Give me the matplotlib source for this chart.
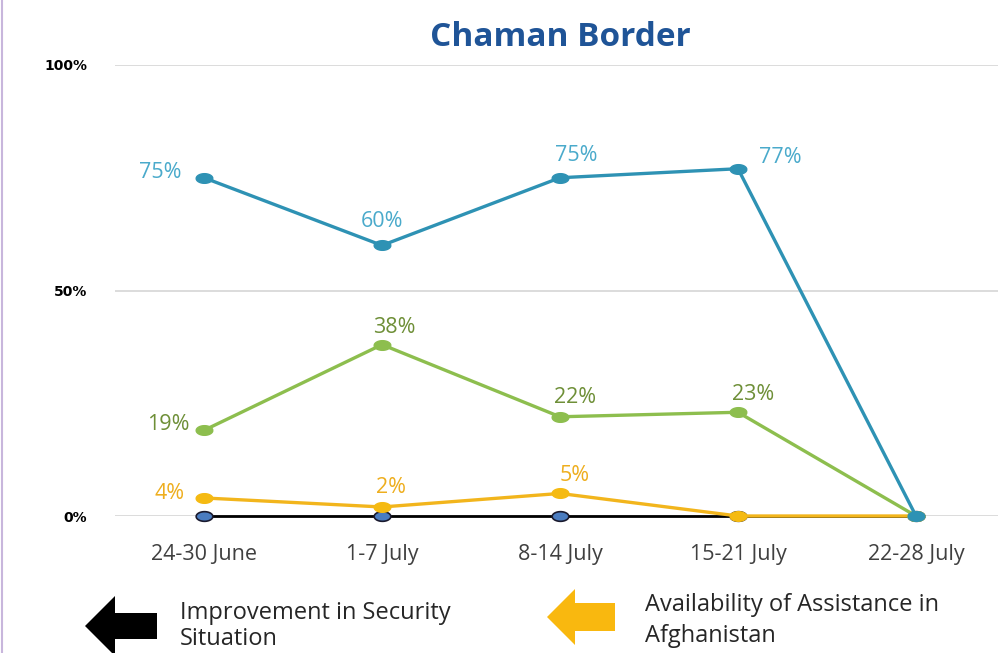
import numpy as np
import matplotlib
matplotlib.use("Agg")
import matplotlib.pyplot as plt
from matplotlib.patches import Polygon
from matplotlib.lines import Line2D

categories = ["24-30 June", "1-7 July", "8-14 July", "15-21 July", "22-28 July"]
blue_vals = [75, 60, 75, 77, 0]
green_vals = [19, 38, 22, 23, 0]
yellow_vals = [4, 2, 5, 0, 0]
black_vals = [0, 0, 0, 0, 0]
blue_labels = ["75%", "60%", "75%", "77%", None]
green_labels = ["19%", "38%", "22%", "23%", None]
yellow_labels = ["4%", "2%", "5%", None, None]
yticks = [0, 50, 100]
ytick_labels = ["0%", "50%", "100%"]

W, H = 998, 653
fig = plt.figure(figsize=(W / 100, H / 100), dpi=100)
ax = fig.add_axes([115 / W, (H - 516) / H, 890 / W, (516 - 65) / H])

t = np.linspace(0, 2 * np.pi, 40)
ellipse = np.column_stack([np.cos(t), 0.58 * np.sin(t)])

x = np.arange(len(categories))

ax.plot(x, black_vals, color="black", lw=2, marker=ellipse, ms=12,
        mfc="#4A7CC0", mec="#1a1a2e", mew=1.2, clip_on=False, zorder=3)
ax.plot(x, yellow_vals, color="#F2B51C", lw=2.4, marker=ellipse, ms=12,
        mfc="#F5BA12", mec="#F5BA12", clip_on=False, zorder=4)
ax.plot(x, green_vals, color="#8DBE4E", lw=2.4, marker=ellipse, ms=12,
        mfc="#8DBE4E", mec="#8DBE4E", clip_on=False, zorder=5)
ax.plot(x, blue_vals, color="#2E92B4", lw=2.4, marker=ellipse, ms=12,
        mfc="#2E92B4", mec="#2E92B4", clip_on=False, zorder=6)

lab_font = dict(family="Open Sans", fontsize=15.5)
offsets = {
    "blue": [(-22, 5, "right"), (0, 24, "center"), (16, 22, "center"), (42, 11, "center")],
    "green": [(-14, 6, "right"), (12, 17, "center"), (15, 19, "center"), (15, 18, "center")],
    "yellow": [(-19, 4, "right"), (9, 19, "center"), (15, 18, "center")],
}
for key, vals, labels, col in [("blue", blue_vals, blue_labels, "#4AAACB"),
                               ("green", green_vals, green_labels, "#6E8F37"),
                               ("yellow", yellow_vals, yellow_labels, "#EEAE1E")]:
    for i, (v, lab) in enumerate(zip(vals, labels)):
        if lab is None:
            continue
        dx, dy, ha = offsets[key][i]
        ax.annotate(lab, (i, v), xytext=(dx, dy), textcoords="offset pixels",
                    ha=ha, va="center", color=col, **lab_font)

ax.set_xlim(-0.5, 4.5)
ax.set_ylim(0, 100)
ax.set_yticks(yticks)
ax.set_yticklabels(ytick_labels, fontsize=10, fontweight="bold", family="DejaVu Sans")
ax.set_xticks(x)
ax.set_xticklabels(categories, fontsize=15.5, color="#404040", family="Open Sans")
ax.tick_params(axis="both", length=0)
ax.tick_params(axis="x", pad=20)
ax.tick_params(axis="y", pad=20)
ax.grid(axis="y", color="#D9D9D9", lw=1.3)
ax.set_axisbelow(True)
for s in ax.spines.values():
    s.set_visible(False)

fig.text(560 / W, 1 - 38 / H, "Chaman Border", ha="center", va="center",
         fontsize=24, fontweight="bold", color="#1F5497", family="Open Sans")

def arrow(tip_x, cy, head_len, head_h, body_end, body_h, color):
    pts = [(tip_x, cy), (tip_x + head_len, cy - head_h / 2), (tip_x + head_len, cy - body_h / 2),
           (body_end, cy - body_h / 2), (body_end, cy + body_h / 2),
           (tip_x + head_len, cy + body_h / 2), (tip_x + head_len, cy + head_h / 2)]
    pts = [(px / W, 1 - py / H) for px, py in pts]
    fig.patches.append(Polygon(pts, closed=True, transform=fig.transFigure,
                               facecolor=color, edgecolor="none"))

arrow(85, 626, 30, 60, 157, 26, "black")
arrow(547, 617, 28, 56, 615, 28, "#F9B80F")

fig.text(180 / W, 1 - 613 / H, "Improvement in Security", ha="left", va="center",
         fontsize=17, color="#262626", family="Open Sans")
fig.text(180 / W, 1 - 639 / H, "Situation", ha="left", va="center",
         fontsize=17, color="#262626", family="Open Sans")
fig.text(645 / W, 1 - 605 / H, "Availability of Assistance in", ha="left", va="center",
         fontsize=17, color="#262626", family="Open Sans")
fig.text(645 / W, 1 - 636 / H, "Afghanistan", ha="left", va="center",
         fontsize=17, color="#262626", family="Open Sans")

fig.add_artist(Line2D([1.5 / W, 1.5 / W], [0, 1], transform=fig.transFigure,
                      color="#C8B6DC", lw=1.5))

fig.savefig("out.png", dpi=100)
